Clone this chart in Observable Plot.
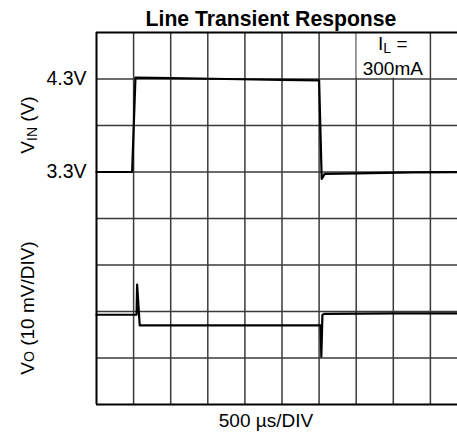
<!DOCTYPE html>
<html>
<head>
<meta charset="utf-8">
<script src="https://cdn.jsdelivr.net/npm/d3@7"></script>
<script src="https://cdn.jsdelivr.net/npm/@observablehq/plot@0.6"></script>
<style>
  html, body { margin: 0; padding: 0; background: #fff; }
  svg { display: block; font-family: "Liberation Sans", Arial, sans-serif; }
</style>
</head>
<body>
<div id="chart"></div>
<script>
// Grid divisions (10 horizontal x 8 vertical)
const xDivs = [0, 1, 2, 3, 4, 5, 6, 7, 8, 9, 10];
const yDivs = [0, 1, 2, 3, 4, 5, 6, 7, 8];

// Y tick labels (V_IN channel)
const yTickValues = [7, 5];
const yTickLabels = ["4.3V", "3.3V"];

// V_IN trace (x in time divisions, y in screen divisions)
const vinX = [0, 0.96, 1.05, 2.0, 3.5, 5.0, 6.0, 6.07, 6.15, 7.0, 8.5, 10];
const vinY = [5.0, 5.0, 7.03, 7.02, 7.0, 6.98, 6.97, 4.85, 4.96, 4.97, 4.99, 5.0];

// V_O trace
const voX = [0, 1.08, 1.095, 1.165, 1.2, 3.0, 5.0, 6.04, 6.06, 6.09, 6.15, 8.0, 10];
const voY = [1.93, 1.93, 2.58, 1.70, 1.70, 1.70, 1.70, 1.70, 1.03, 1.93, 1.95, 1.96, 1.96];

// Annotation box (I_L = 300mA) in grid cells
const noteBox = [{x1: 7, x2: 9, y1: 7, y2: 8}];

const vin = vinX.map((x, i) => ({x, y: vinY[i]}));
const vo = voX.map((x, i) => ({x, y: voY[i]}));
const yTicks = yTickValues.map((v, i) => ({x: 0, y: v, label: yTickLabels[i]}));
const x0 = xDivs[0], x1 = xDivs[xDivs.length - 1];
const y0 = yDivs[0], y1 = yDivs[yDivs.length - 1];
const innerX = xDivs.slice(1, -1);
const innerY = yDivs.slice(1, -1);

const chart = Plot.plot({
  width: 457,
  height: 443,
  x: {domain: [x0, x1], range: [96, 467], axis: null},
  y: {domain: [y0, y1], range: [404, 32], axis: null},
  marks: [
    Plot.ruleX(innerX, {y1: y0, y2: y1, stroke: "#3a3a3a", strokeWidth: 1.5}),
    Plot.ruleY(innerY, {x1: x0, x2: x1, stroke: "#3a3a3a", strokeWidth: 1.5}),
    Plot.rect(noteBox, {x1: "x1", x2: "x2", y1: "y1", y2: "y2", fill: "white", inset: 0.8}),
    Plot.ruleX([x0, x1], {y1: y0, y2: y1, stroke: "black", strokeWidth: 2}),
    Plot.ruleY([y0, y1], {x1: x0, x2: x1, stroke: "black", strokeWidth: 2}),
    Plot.line(vin, {x: "x", y: "y", stroke: "black", strokeWidth: 2.2, strokeLinejoin: "round"}),
    Plot.line(vo, {x: "x", y: "y", stroke: "black", strokeWidth: 2.2, strokeLinejoin: "round"}),
    Plot.text(yTicks, {x: "x", y: "y", text: "label", textAnchor: "end", dx: -10, fontSize: 19.5, fill: "black"})
  ]
});

document.getElementById("chart").appendChild(chart);

const svg = d3.select(chart);
svg.style("font-family", '"Liberation Sans", Arial, sans-serif');

// Title
svg.append("text")
  .attr("x", 271).attr("y", 26)
  .attr("text-anchor", "middle")
  .attr("font-size", 21.2).attr("font-weight", "bold").attr("fill", "black")
  .text("Line Transient Response");

// X axis label
svg.append("text")
  .attr("x", 266).attr("y", 427)
  .attr("text-anchor", "middle")
  .attr("font-size", 19).attr("fill", "black")
  .text("500 µs/DIV");

// Y label: V_IN (V)
const yl1 = svg.append("text")
  .attr("transform", "translate(34,125) rotate(-90)")
  .attr("text-anchor", "middle")
  .attr("font-size", 19).attr("fill", "black");
yl1.append("tspan").text("V");
yl1.append("tspan").attr("font-size", 14).attr("dy", 3).text("IN");
yl1.append("tspan").attr("dy", -3).text(" (V)");

// Y label: V_O (10 mV/DIV)
const yl2 = svg.append("text")
  .attr("transform", "translate(34,308) rotate(-90)")
  .attr("text-anchor", "middle")
  .attr("font-size", 19).attr("fill", "black");
yl2.append("tspan").text("V");
yl2.append("tspan").attr("font-size", 14).text("O");
yl2.append("tspan").text(" (10 mV/DIV)");

// Annotation text
const xs = chart.scale("x"), ys = chart.scale("y");
const cx = (xs.apply(noteBox[0].x1) + xs.apply(noteBox[0].x2)) / 2;
const t1 = svg.append("text")
  .attr("x", cx).attr("y", ys.apply(noteBox[0].y2) + 18)
  .attr("text-anchor", "middle").attr("font-size", 19).attr("fill", "black");
t1.append("tspan").text("I");
t1.append("tspan").attr("font-size", 14).attr("dy", 3).text("L");
t1.append("tspan").attr("dy", -3).text(" =");
svg.append("text")
  .attr("x", cx).attr("y", ys.apply(noteBox[0].y2) + 43)
  .attr("text-anchor", "middle").attr("font-size", 19).attr("fill", "black")
  .text("300mA");
</script>
</body>
</html>
